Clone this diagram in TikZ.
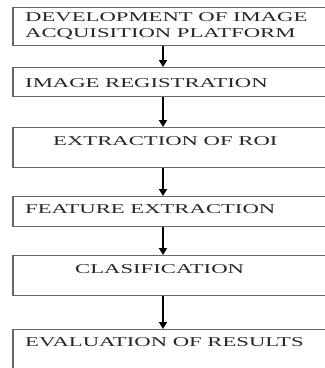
\documentclass[tikz,border=0pt]{standalone}
\usepackage{fontspec}
\setmainfont{Liberation Serif}[FakeStretch=1.68]
\usetikzlibrary{arrows.meta}
\begin{document}
\begin{tikzpicture}[x=1pt,y=-1pt]
\tikzstyle{every node}+=[inner sep=0pt]
\tikzstyle{stagebox}=[draw=black!60, line width=1.3pt, rectangle, anchor=north west, minimum width=340pt]
\tikzstyle{stagetext}=[anchor=base west, text=black!85, font=\fontsize{13.5}{16}\selectfont, align=left]
\tikzstyle{flow}=[black, line width=1.8pt, -{Triangle[width=8pt,length=7pt]}]
\useasboundingbox (0,0) rectangle (325,368);
\clip (0,0) rectangle (325,368);
% stages
\node [stagebox, minimum height=38pt] (b1) at (12.5,6.5) {};
\node [stagebox, minimum height=29pt] (b2) at (12.5,67) {};
\node [stagebox, minimum height=40pt] (b3) at (12.5,127) {};
\node [stagebox, minimum height=30pt] (b4) at (12.5,196) {};
\node [stagebox, minimum height=40pt] (b5) at (12.5,255) {};
\node [stagebox, minimum height=71pt] (b6) at (12.5,329) {};
\node [stagetext] (t1) at (25,37) {DEVELOPMENT OF IMAGE\\ACQUISITION PLATFORM};
\node [stagetext] (t2) at (25,87) {IMAGE REGISTRATION};
\node [stagetext] (t3) at (53,145) {EXTRACTION OF ROI};
\node [stagetext] (t4) at (25,213) {FEATURE EXTRACTION};
\node [stagetext] (t5) at (75,273) {CLASIFICATION};
\node [stagetext] (t6) at (25,346) {EVALUATION OF RESULTS};
% arrows
\coordinate (ax) at (163,0);
\draw [flow] (b1.south -| ax) -- (b2.north -| ax);
\draw [flow] (b2.south -| ax) -- (b3.north -| ax);
\draw [flow] (b3.south -| ax) -- (b4.north -| ax);
\draw [flow] (b4.south -| ax) -- (b5.north -| ax);
\draw [flow] (b5.south -| ax) -- (b6.north -| ax);
\end{tikzpicture}
\end{document}
